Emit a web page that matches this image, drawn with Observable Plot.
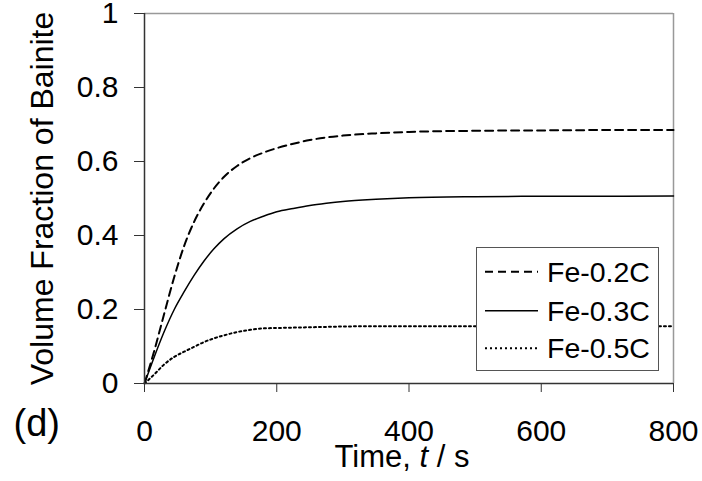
<!DOCTYPE html>
<html>
<head>
<meta charset="utf-8">
<script src="https://cdn.jsdelivr.net/npm/d3@7"></script>
<script src="https://cdn.jsdelivr.net/npm/@observablehq/plot@0.6"></script>
<style>
  html, body { margin: 0; padding: 0; background: #fff; }
  #wrap { position: relative; width: 702px; height: 481px; font-family: "Liberation Sans", Arial, sans-serif; }
</style>
</head>
<body>
<div id="wrap"></div>
<script>
// ---- data ----
const times = [0, 15, 30, 45, 60, 75, 90, 105, 120, 140, 160, 180, 200, 225, 250, 275, 300, 350, 400, 500, 600, 700, 800];
const fe02C = [0, 0.090, 0.190, 0.288, 0.372, 0.437, 0.487, 0.527, 0.558, 0.588, 0.609, 0.624, 0.636, 0.648, 0.658, 0.665, 0.670, 0.676, 0.680, 0.683, 0.684, 0.685, 0.685];
const fe03C = [0, 0.073, 0.141, 0.200, 0.248, 0.292, 0.331, 0.364, 0.391, 0.418, 0.438, 0.452, 0.464, 0.473, 0.481, 0.487, 0.492, 0.498, 0.502, 0.505, 0.506, 0.506, 0.507];
const fe05C = [0, 0.025, 0.052, 0.072, 0.086, 0.099, 0.112, 0.122, 0.130, 0.139, 0.145, 0.149, 0.150, 0.151, 0.152, 0.153, 0.154, 0.155, 0.155, 0.155, 0.155, 0.155, 0.155];
const seriesNames = ["Fe-0.2C", "Fe-0.3C", "Fe-0.5C"];
const seriesValues = [fe02C, fe03C, fe05C];
const seriesDash = ["8,5", null, "2,3"];
const seriesWidth = [2, 1.5, 2];
const xTicks = [0, 200, 400, 600, 800];
const yTicks = [0, 0.2, 0.4, 0.6, 0.8, 1];
const xLabel = "Time, t / s";
const yLabel = "Volume Fraction of Bainite";
const panelLabel = "(d)";

const rows = [];
seriesNames.forEach((name, i) => {
  times.forEach((t, j) => rows.push({series: name, t, v: seriesValues[i][j]}));
});

const lineMarks = seriesNames.map((name, i) =>
  Plot.line(rows.filter(d => d.series === name), {
    x: "t", y: "v", stroke: "#000", strokeWidth: seriesWidth[i],
    strokeDasharray: seriesDash[i] || undefined, curve: "monotone-x"
  })
);

const chart = Plot.plot({
  width: 702, height: 481,
  marginLeft: 144, marginRight: 29, marginTop: 13, marginBottom: 98,
  x: {domain: [0, 800]},
  y: {domain: [0, 1]},
  style: {fontFamily: "'Liberation Sans', Arial, sans-serif", fontSize: "30px", color: "#000", background: "#fff"},
  marks: [
    Plot.ruleY([1], {stroke: "#999", strokeWidth: 1.5}),
    Plot.ruleX([800], {stroke: "#999", strokeWidth: 1.5}),
    ...lineMarks,
    Plot.axisX({ticks: xTicks, tickSize: 9, tickPadding: 27, label: null, fontSize: 30, stroke: "#333", tickFormat: d => String(d)}),
    Plot.axisY({ticks: yTicks, tickSize: 10, tickPadding: 16, label: null, fontSize: 30, stroke: "#333", tickFormat: d => String(d)}),
    Plot.ruleX([0], {stroke: "#333", strokeWidth: 1.5}),
    Plot.ruleY([0], {stroke: "#333", strokeWidth: 1.5}),
    Plot.text([xLabel], {frameAnchor: "bottom", dx: -7, dy: 83, lineAnchor: "bottom", textAnchor: "middle", fontSize: 31, fill: "#000"}),
    Plot.text([yLabel], {frameAnchor: "left", rotate: -90, dx: -92, lineAnchor: "bottom", textAnchor: "middle", fontSize: 32, fill: "#000"}),
    Plot.text([panelLabel], {frameAnchor: "bottom-left", dx: -131, dy: 52, textAnchor: "start", lineAnchor: "bottom", fontSize: 38, fill: "#000"})
  ]
});

// italicise the "t" in the x label (kept as real text)
d3.select(chart).selectAll("text").filter(function() { return this.textContent === xLabel; })
  .each(function() {
    const el = d3.select(this);
    el.text(null);
    el.append("tspan").text("Time, ");
    el.append("tspan").attr("font-style", "italic").text("t");
    el.append("tspan").text(" / s");
  });

const wrap = document.getElementById("wrap");
wrap.appendChild(chart);

// legend
const lw = 183, lh = 124;
const leg = d3.create("svg").attr("width", lw).attr("height", lh)
  .style("position", "absolute").style("left", "476px").style("top", "247px");
leg.append("rect").attr("x", 0.5).attr("y", 0.5).attr("width", lw - 1).attr("height", lh - 1)
  .attr("fill", "#fff").attr("stroke", "#555").attr("stroke-width", 1);
const rowY = [24.7, 63.7, 101.3];
seriesNames.forEach((name, i) => {
  leg.append("line").attr("x1", 9).attr("x2", 62).attr("y1", rowY[i]).attr("y2", rowY[i])
    .attr("stroke", "#000").attr("stroke-width", seriesWidth[i])
    .attr("stroke-dasharray", seriesDash[i]);
  leg.append("text").attr("x", 71).attr("y", rowY[i] + 10)
    .attr("font-family", "'Liberation Sans', Arial, sans-serif").attr("font-size", 28.5)
    .attr("fill", "#000").text(name);
});
wrap.appendChild(leg.node());
</script>
</body>
</html>
